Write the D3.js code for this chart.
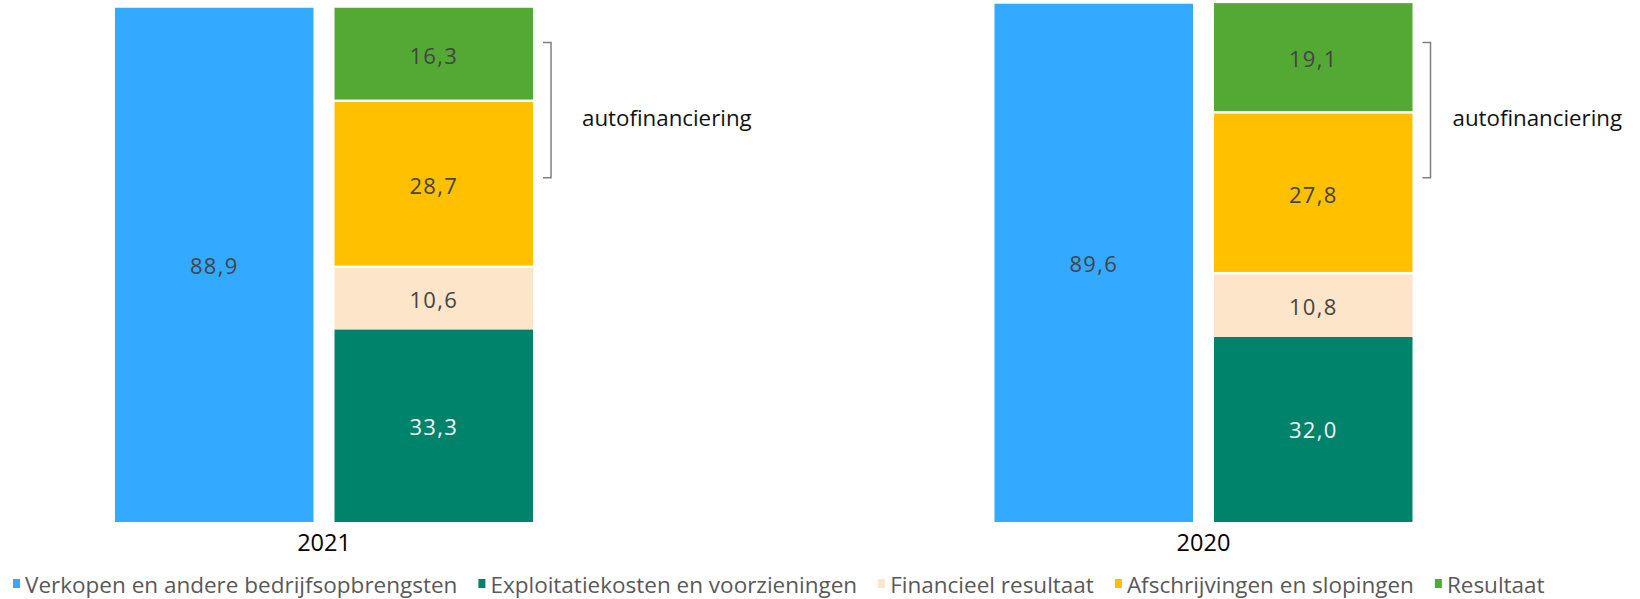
<!DOCTYPE html>
<html>
<head>
<meta charset="utf-8">
<script src="https://cdn.jsdelivr.net/npm/d3@7"></script>
<style>
  html, body { margin: 0; padding: 0; background: #fff; }
  svg { display: block; }
  text { font-family: "Open Sans", "DejaVu Sans", sans-serif; }
</style>
</head>
<body>
<svg id="chart" width="1640" height="599"></svg>
<script>
// ---- data ----
const years = ["2021", "2020"];
const columns = ["opbrengsten", "kosten"];
const seriesNames = [
  "Verkopen en andere bedrijfsopbrengsten",
  "Exploitatiekosten en voorzieningen",
  "Financieel resultaat",
  "Afschrijvingen en slopingen",
  "Resultaat"
];
const verkopen = [88.9, 89.6];
const exploitatiekosten = [33.3, 32.0];
const financieel = [10.6, 10.8];
const afschrijvingen = [28.7, 27.8];
const resultaat = [16.3, 19.1];
const bracketRange = [59.5, 82.9];
const bracketLabel = "autofinanciering";

// ---- styles (kept apart from data) ----
const colors = ["#33aaff", "#00836b", "#fde5c9", "#ffc000", "#53a934"];
const labelColors = ["#444", "#f4f4f4", "#444", "#444", "#444"];
const segmentGap = [0, 0, 0, 1, 1];
const annotationOffset = [39, 30];

const svg = d3.select("#chart");

const y = d3.scaleLinear().domain([0, 90]).range([522, 1.4]);
const x0 = d3.scaleBand().domain(years).range([115, 1412.5]).paddingInner(0.5247).paddingOuter(0);
const x1 = d3.scaleBand().domain(columns).range([0, x0.bandwidth()]).paddingInner(0.0957).paddingOuter(0);

const fmt = v => d3.format(".1f")(v).replace(".", ",");

// Build stacked table for the second column
const stackRows = years.map((yr, i) => ({
  year: yr,
  exploitatie: exploitatiekosten[i],
  financieel: financieel[i],
  afschrijvingen: afschrijvingen[i],
  resultaat: resultaat[i]
}));
const stackKeys = ["exploitatie", "financieel", "afschrijvingen", "resultaat"];
const stacked = d3.stack().keys(stackKeys)(stackRows);

const g = svg.append("g");
const LABEL_FS = 22, LABEL_LS = 1.3;

// Blue bars
years.forEach((yr, i) => {
  const bx = x0(yr) + x1("opbrengsten");
  g.append("rect")
    .attr("x", bx).attr("width", x1.bandwidth())
    .attr("y", y(verkopen[i])).attr("height", y(0) - y(verkopen[i]))
    .attr("fill", colors[0]);
  g.append("text")
    .attr("x", bx + x1.bandwidth() / 2)
    .attr("y", (y(verkopen[i]) + y(0)) / 2)
    .attr("text-anchor", "middle").attr("dominant-baseline", "central")
    .attr("font-size", LABEL_FS).attr("letter-spacing", LABEL_LS)
    .attr("fill", labelColors[0])
    .text(fmt(verkopen[i]));
});

// Stacked bars
stacked.forEach((layer, k) => {
  const si = k + 1;
  layer.forEach((d, i) => {
    const yr = years[i];
    const bx = x0(yr) + x1("kosten");
    const top = y(d[1]), bot = y(d[0]);
    const gap = segmentGap[si];
    g.append("rect")
      .attr("x", bx).attr("width", x1.bandwidth())
      .attr("y", top).attr("height", bot - top - gap * 2.5)
      .attr("fill", colors[si]);
    g.append("text")
      .attr("x", bx + x1.bandwidth() / 2)
      .attr("y", (top + bot) / 2)
      .attr("text-anchor", "middle").attr("dominant-baseline", "central")
      .attr("font-size", LABEL_FS).attr("letter-spacing", LABEL_LS)
      .attr("fill", labelColors[si])
      .text(fmt(d[1] - d[0]));
  });
});

// Brackets + annotation
years.forEach((yr, i) => {
  const bx = x0(yr) + x0.bandwidth() + 10;
  const t = y(bracketRange[1]), b = y(bracketRange[0]);
  g.append("path")
    .attr("d", `M${bx},${t} H${bx + 8} V${b} H${bx}`)
    .attr("fill", "none").attr("stroke", "#7f7f7f").attr("stroke-width", 1.5);
  g.append("text")
    .attr("x", bx + annotationOffset[i]).attr("y", (t + b) / 2 + 7)
    .attr("dominant-baseline", "central")
    .attr("font-size", 22.3).attr("fill", "#111")
    .text(bracketLabel);
});

// Category axis labels
const xAxis = d3.axisBottom(x0).tickSize(0).tickPadding(0);
const ax = svg.append("g").attr("transform", `translate(0, ${y(0) + 12})`).call(xAxis);
ax.select(".domain").remove();
ax.selectAll("text").attr("font-size", 23.5).attr("fill", "#000")
  .attr("dy", "0.71em")
  .style("font-family", '"Open Sans", "DejaVu Sans", sans-serif');

// Legend
const leg = svg.append("g").attr("transform", "translate(13, 584)");
let cx = 0;
seriesNames.forEach((name, i) => {
  const it = leg.append("g").attr("transform", `translate(${cx},0)`);
  it.append("rect").attr("x", 0).attr("y", -5).attr("width", 7).attr("height", 9).attr("fill", colors[i]);
  const t = it.append("text").attr("x", 12).attr("y", 0)
    .attr("dominant-baseline", "central")
    .attr("font-size", 22.5).attr("fill", "#595959").text(name);
  cx += 12 + t.node().getComputedTextLength() + 21;
});
</script>
</body>
</html>
